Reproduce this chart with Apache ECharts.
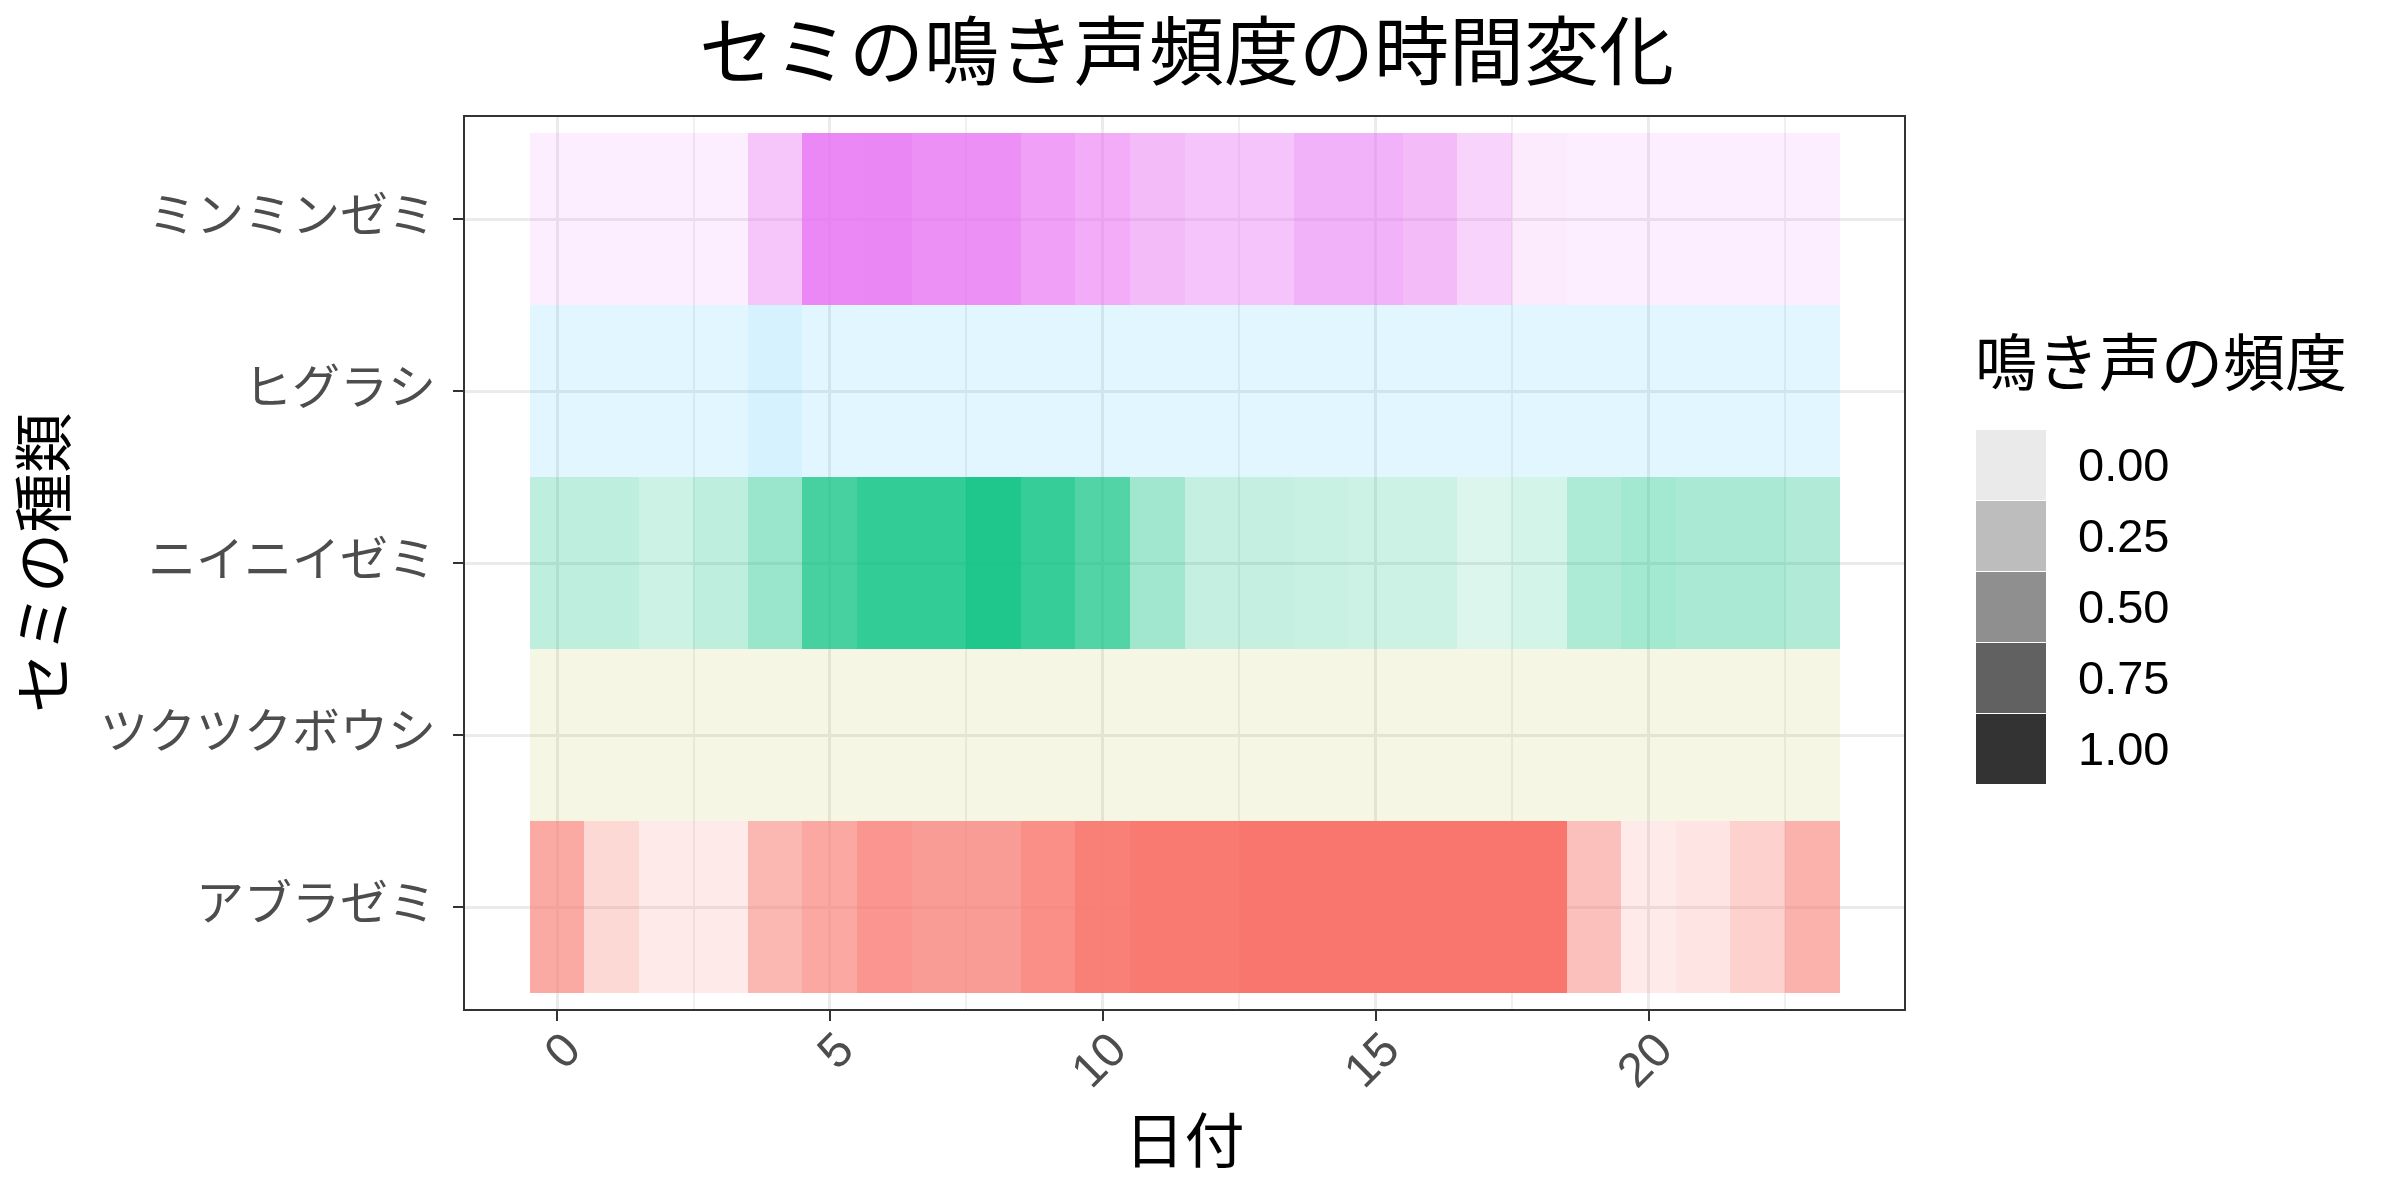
<!DOCTYPE html>
<html><head><meta charset="utf-8">
<script src="https://cdn.jsdelivr.net/npm/echarts@6/dist/echarts.min.js"></script>
<style>html,body{margin:0;padding:0;background:#fff}#c{width:2400px;height:1200px}</style>
</head><body><div id="c"></div>
<script>
const FONT = "'Liberation Sans', 'Noto Sans CJK JP', sans-serif";
const days = [0,1,2,3,4,5,6,7,8,9,10,11,12,13,14,15,16,17,18,19,20,21,22,23];
const species = ['アブラゼミ','ツクツクボウシ','ニイニイゼミ','ヒグラシ','ミンミンゼミ'];
const speciesColors = ['#F8766D','#A3A500','#00BF7D','#00B0F6','#E76BF3'];
const abura   = [0.59,0.20,0.06,0.06,0.47,0.60,0.74,0.69,0.69,0.80,0.92,0.97,0.97,1.00,1.00,1.00,1.00,1.00,1.00,0.40,0.06,0.11,0.26,0.52];
const tsuku   = [0,0,0,0,0,0,0,0,0,0,0,0,0,0,0,0,0,0,0,0,0,0,0,0];
const niinii  = [0.17,0.17,0.11,0.17,0.33,0.69,0.78,0.78,0.86,0.76,0.64,0.30,0.14,0.14,0.13,0.11,0.11,0.04,0.08,0.24,0.29,0.26,0.26,0.23];
const higurashi = [0.02,0.02,0.02,0.02,0.07,0.02,0.02,0.02,0.02,0.02,0.02,0.02,0.02,0.02,0.02,0.02,0.02,0.02,0.02,0.02,0.02,0.02,0.02,0.02];
const minmin  = [0.02,0.02,0.02,0.02,0.32,0.78,0.80,0.72,0.72,0.60,0.51,0.40,0.33,0.33,0.47,0.47,0.40,0.22,0.05,0.02,0.02,0.02,0.02,0.02];
const xTicks = [0,5,10,15,20];
const xMinor = [2.5,7.5,12.5,17.5,22.5];
const legendBreaks = [0,0.25,0.5,0.75,1];
const legendLabels = ['0.00','0.25','0.50','0.75','1.00'];

const rows = [abura, tsuku, niinii, higurashi, minmin];
const alphaOf = f => 0.1 + 0.9 * f;

const series = rows.map((vals, si) => ({
  type: 'custom',
  xAxisIndex: 0, yAxisIndex: 0,
  data: days.map((d, i) => [d, si, vals[i]]),
  renderItem: function (params, api) {
    const d = api.value(0), y = api.value(1), f = api.value(2);
    const p0 = api.coord([d - 0.5, y + 0.5]);
    const p1 = api.coord([d + 0.5, y - 0.5]);
    const x0 = Math.round(p0[0]), x1 = Math.round(p1[0]);
    const y0 = Math.round(p0[1]), y1 = Math.round(p1[1]);
    return { type: 'rect', shape: { x: x0, y: y0, width: x1 - x0, height: y1 - y0 },
      style: { fill: speciesColors[si], opacity: alphaOf(f) } };
  },
  silent: true
}));

const G = { left: 464, top: 116, width: 1441, height: 894 };
const legendGraphics = [{
  type: 'text', left: 1975, top: 338,
  style: { text: '鳴き声の頻度', font: '62px ' + FONT, fill: '#000' }
}];
legendBreaks.forEach((b, i) => {
  const top = 430 + i * 71;
  legendGraphics.push({ type: 'rect', shape: { x: 1976, y: top, width: 70, height: 70 },
    style: { fill: '#333333', opacity: alphaOf(b) } });
  legendGraphics.push({ type: 'text', x: 2078, y: top + 38,
    style: { text: legendLabels[i], font: '47px ' + FONT, fill: '#000', textVerticalAlign: 'middle' } });
});
legendGraphics.push({ type: 'text', x: G.left + G.width / 2 + 2, y: 58,
  style: { text: 'セミの鳴き声頻度の時間変化', font: '75px ' + FONT, fill: '#000', textAlign: 'center', textVerticalAlign: 'middle' } });
legendGraphics.push({ type: 'rect', shape: { x: G.left, y: G.top, width: G.width, height: G.height },
  style: { fill: 'none', stroke: '#333333', lineWidth: 2 }, z: 100 });

const chart = echarts.init(document.getElementById('c'));
chart.setOption({
  animation: false,
  backgroundColor: '#fff',
  grid: G,
  xAxis: [{
    type: 'value', min: -1.7, max: 24.7,
    name: '日付', nameLocation: 'middle', nameGap: 106,
    nameTextStyle: { fontSize: 60, fontFamily: FONT, color: '#000' },
    axisLine: { show: false, onZero: false },
    axisTick: { show: true, length: 11, customValues: xTicks, lineStyle: { color: '#333333', width: 2 } },
    axisLabel: { customValues: xTicks, rotate: 45, margin: 16, verticalAlign: 'top', fontSize: 48, fontFamily: FONT, color: '#4D4D4D' },
    splitLine: { show: true, customValues: xTicks, lineStyle: { color: '#EBEBEB', width: 3 } }
  }, {
    type: 'value', min: -1.7, max: 24.7, position: 'bottom',
    axisLine: { show: false, onZero: false },
    axisTick: { show: false, customValues: xMinor },
    axisLabel: { show: false, customValues: xMinor },
    splitLine: { show: true, customValues: xMinor, lineStyle: { color: '#EBEBEB', width: 1.5 } }
  }],
  yAxis: [{
    type: 'value', min: -0.6, max: 4.6,
    name: 'セミの種類', nameLocation: 'middle', nameGap: 385, nameRotate: 90,
    nameTextStyle: { fontSize: 60, fontFamily: FONT, color: '#000' },
    axisLine: { show: false, onZero: false },
    axisTick: { show: true, length: 11, customValues: [0,1,2,3,4], lineStyle: { color: '#333333', width: 2 } },
    axisLabel: { customValues: [0,1,2,3,4], margin: 28, fontSize: 48, fontFamily: FONT, color: '#4D4D4D',
      formatter: v => species[Math.round(v)] },
    splitLine: { show: true, customValues: [0,1,2,3,4], lineStyle: { color: '#EBEBEB', width: 3 } }
  }],
  series: series,
  graphic: legendGraphics
});
</script></body></html>
